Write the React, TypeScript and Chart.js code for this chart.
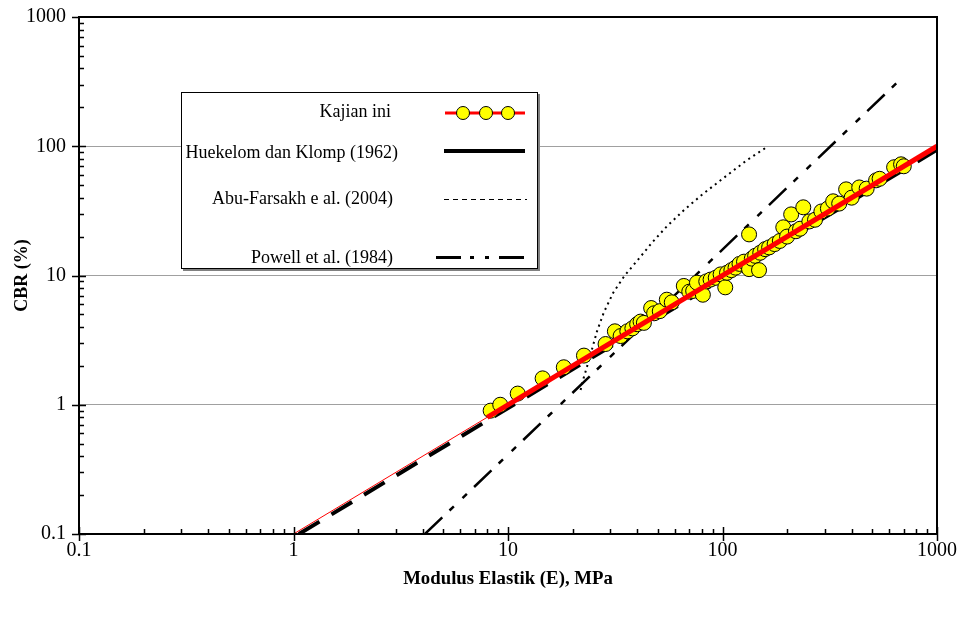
import React, { useEffect, useRef } from 'react';
import { Chart, registerables } from 'chart.js';

Chart.register(...registerables);

// ---------- data ----------
const xTickValues = [0.1, 1, 10, 100, 1000];
const xTickLabels = ['0.1', '1', '10', '100', '1000'];
const yTickValues = [0.1, 1, 10, 100, 1000];
const yTickLabels = ['0.1', '1', '10', '100', '1000'];

// Kajian ini: [E (MPa), CBR (%)]
const kajianPoints: [number, number][] = [
  [8.3, 0.9], [9.2, 1.0], [11.1, 1.22], [14.5, 1.6], [18.2, 1.95], [22.6, 2.4],
  [28.5, 2.95], [31.5, 3.7], [33.5, 3.4], [36, 3.7], [38, 3.9], [40, 4.2],
  [41.5, 4.4], [43, 4.3], [46.5, 5.6], [48, 5.1], [51, 5.3], [55, 6.5],
  [58, 6.2], [66, 8.3], [70, 7.5], [73, 7.6], [76, 8.8], [81, 7.1],
  [84, 9.0], [88, 9.3], [93, 9.6], [98, 10.2], [103, 8.1], [105, 10.5],
  [110, 11.0], [115, 11.5], [120, 12.3], [126, 12.8], [133, 20.8], [133, 11.2],
  [137, 13.5], [142, 14.2], [148, 11.0], [150, 15.0], [158, 16.0], [165, 16.5],
  [175, 17.5], [185, 18.5], [192, 23.6], [200, 20], [209, 29.7], [220, 22],
  [230, 23], [238, 33.7], [254, 26.2], [270, 27], [289, 31.3], [310, 33],
  [328, 37.5], [350, 36], [377, 46.4], [400, 40], [434, 48], [470, 47],
  [520, 54.5], [540, 56], [631, 68.8], [680, 72.5], [700, 70],
];

// Regression line of this study (thin full extent, thick over data range)
const fitThinE = [1, 1000];
const fitThinCBR = [0.1, 100];
const fitThickE = [8, 1000];
const fitThickCBR = [0.8, 100];

// Huekelom dan Klomp (1962)
const heukE = [1.06, 1000];
const heukCBR = [0.1, 94];

// Abu-Farsakh e al. (2004)
const abuE = [21.8, 22.5, 24, 26, 28, 31, 35, 40, 47, 55, 66, 80, 100, 130, 163];
const abuCBR = [1.3, 1.6, 2.3, 3.7, 5.2, 7.4, 10, 13, 18, 24, 32, 42, 56, 78, 100];

// Powell et al. (1984)
const powellE = [4.1, 670];
const powellCBR = [0.1, 325];

const legendLabels = ['Kajian ini', 'Huekelom dan Klomp (1962)', 'Abu-Farsakh e al. (2004)', 'Powell et al. (1984)'];

const SERIF = "'Liberation Serif', 'Times New Roman', serif";

const toXY = (xs: number[], ys: number[]) => xs.map((x, i) => ({ x, y: ys[i] }));

const decorPlugin = {
  id: 'decor',
  afterDraw(chart: any) {
    const { ctx, chartArea } = chart;
    const xs = chart.scales.x;
    const ys = chart.scales.y;
    const { left, right, top, bottom } = chartArea;
    ctx.save();
    ctx.strokeStyle = '#000';
    // frame
    ctx.lineWidth = 2;
    ctx.strokeRect(left, top, right - left, bottom - top);
    // ticks
    ctx.lineWidth = 1.5;
    ctx.beginPath();
    for (let i = 0; i < xTickValues.length; i++) {
      const px = Math.round(xs.getPixelForValue(xTickValues[i])) + 0.5;
      ctx.moveTo(px, bottom - 7);
      ctx.lineTo(px, bottom + 7);
      if (i < xTickValues.length - 1) {
        for (let m = 2; m <= 9; m++) {
          const mx = Math.round(xs.getPixelForValue(xTickValues[i] * m)) + 0.5;
          ctx.moveTo(mx, bottom);
          ctx.lineTo(mx, bottom - 5);
        }
      }
    }
    for (let i = 0; i < yTickValues.length; i++) {
      const py = Math.round(ys.getPixelForValue(yTickValues[i])) + 0.5;
      ctx.moveTo(left - 7, py);
      ctx.lineTo(i === yTickValues.length - 1 ? left : left + 7, py);
      if (i < yTickValues.length - 1) {
        for (let m = 2; m <= 9; m++) {
          const my = Math.round(ys.getPixelForValue(yTickValues[i] * m)) + 0.5;
          ctx.moveTo(left, my);
          ctx.lineTo(left + 5, my);
        }
      }
    }
    ctx.stroke();

    // legend box
    const bx = 181, by = 92, bw = 356, bh = 176;
    ctx.fillStyle = '#808080';
    ctx.fillRect(bx + 2, by + 2, bw + 1, bh + 1);
    ctx.fillStyle = '#fff';
    ctx.fillRect(bx, by, bw, bh);
    ctx.lineWidth = 1;
    ctx.strokeStyle = '#000';
    ctx.strokeRect(bx + 0.5, by + 0.5, bw, bh);

    ctx.fillStyle = '#000';
    ctx.font = `18px ${SERIF}`;
    ctx.textBaseline = 'middle';
    ctx.textAlign = 'right';
    ctx.fillText(legendLabels[0], 391, 112);
    ctx.fillText(legendLabels[1], 398, 153);
    ctx.fillText(legendLabels[2], 393, 199);
    ctx.fillText(legendLabels[3], 393, 258);

    // sample: Kajian ini
    ctx.strokeStyle = '#ff0000';
    ctx.lineWidth = 3;
    ctx.beginPath();
    ctx.moveTo(445, 113);
    ctx.lineTo(525, 113);
    ctx.stroke();
    ctx.fillStyle = '#ffff00';
    ctx.strokeStyle = '#000';
    ctx.lineWidth = 1;
    [463, 486, 508].forEach((cx) => {
      ctx.beginPath();
      ctx.arc(cx, 113, 6.5, 0, Math.PI * 2);
      ctx.fill();
      ctx.stroke();
    });
    // sample: Huekelom
    ctx.strokeStyle = '#000';
    ctx.lineWidth = 4;
    ctx.beginPath();
    ctx.moveTo(444, 151);
    ctx.lineTo(525, 151);
    ctx.stroke();
    // sample: Abu-Farsakh
    ctx.lineWidth = 1;
    ctx.setLineDash([5, 4]);
    ctx.beginPath();
    ctx.moveTo(444, 199.5);
    ctx.lineTo(527, 199.5);
    ctx.stroke();
    // sample: Powell
    ctx.lineWidth = 3;
    ctx.setLineDash([25, 9, 4, 11, 4, 10]);
    ctx.beginPath();
    ctx.moveTo(436, 257.5);
    ctx.lineTo(528, 257.5);
    ctx.stroke();
    ctx.setLineDash([]);
    ctx.restore();
  },
};

export default function App() {
  const ref = useRef<HTMLCanvasElement | null>(null);

  useEffect(() => {
    if (!ref.current) return;
    const lineDs = (data: any[], color: string, width: number, dash: number[] = []) => ({
      type: 'scatter' as const,
      data,
      showLine: true,
      borderColor: color,
      backgroundColor: color,
      borderWidth: width,
      borderDash: dash,
      pointRadius: 0,
      pointHoverRadius: 0,
      fill: false,
    });

    const chart = new Chart(ref.current, {
      type: 'scatter',
      data: {
        datasets: [
          lineDs(toXY(fitThickE, fitThickCBR), '#ff0000', 5),
          lineDs(toXY(fitThinE, fitThinCBR), '#ff0000', 1),
          {
            type: 'scatter',
            data: kajianPoints.map(([x, y]) => ({ x, y })),
            pointRadius: 7.5,
            pointBackgroundColor: '#ffff00',
            pointBorderColor: '#000',
            pointBorderWidth: 1,
            showLine: false,
          } as any,
          lineDs(toXY(heukE, heukCBR), '#000', 4, [24, 14]),
          lineDs(toXY(powellE, powellCBR), '#000', 2.5, [24, 10, 6, 12, 6, 10]),
          lineDs(toXY(abuE, abuCBR), '#000', 2, [2, 4]),
        ],
      },
      plugins: [decorPlugin],
      options: {
        animation: false,
        responsive: false,
        maintainAspectRatio: false,
        devicePixelRatio: 1,
        layout: { padding: { top: 17, right: 25, left: 0, bottom: 0 } },
        plugins: {
          legend: { display: false },
          tooltip: { enabled: false },
        },
        scales: {
          x: {
            type: 'logarithmic',
            min: 0.1,
            max: 1000,
            afterBuildTicks: (scale: any) => {
              scale.ticks = xTickValues.map((v) => ({ value: v }));
            },
            afterFit: (scale: any) => {
              scale.height = 84;
              scale.paddingLeft = 0;
              scale.paddingRight = 0;
            },
            ticks: {
              callback: (_v: any, i: number) => xTickLabels[i],
              font: { family: SERIF, size: 20 },
              color: '#000',
              padding: 5,
              maxRotation: 0,
              autoSkip: false,
            },
            grid: { display: false, drawTicks: false },
            border: { display: false },
            title: {
              display: true,
              text: 'Modulus Elastik (E), MPa',
              font: { family: SERIF, size: 18.8, weight: 'bold' },
              color: '#000',
              padding: { top: 0, bottom: 28 },
            },
          },
          y: {
            type: 'logarithmic',
            min: 0.1,
            max: 1000,
            afterBuildTicks: (scale: any) => {
              scale.ticks = yTickValues.map((v) => ({ value: v }));
            },
            afterFit: (scale: any) => {
              scale.width = 79;
              scale.paddingTop = 0;
              scale.paddingBottom = 0;
            },
            ticks: {
              callback: (_v: any, i: number) => yTickLabels[i],
              font: { family: SERIF, size: 20 },
              color: '#000',
              padding: 13,
              autoSkip: false,
            },
            grid: { display: true, color: '#a0a0a0', lineWidth: 1, drawTicks: false },
            border: { display: false },
            title: {
              display: true,
              text: 'CBR (%)',
              font: { family: SERIF, size: 18, weight: 'bold' },
              color: '#000',
              padding: { top: 12, bottom: 0 },
            },
          },
        },
      } as any,
    });
    return () => chart.destroy();
  }, []);

  return (
    <div style={{ position: 'absolute', left: 0, top: 0, width: 962, height: 618, background: '#fff' }}>
      <canvas ref={ref} width={962} height={618} style={{ width: 962, height: 618, display: 'block' }} />
    </div>
  );
}
